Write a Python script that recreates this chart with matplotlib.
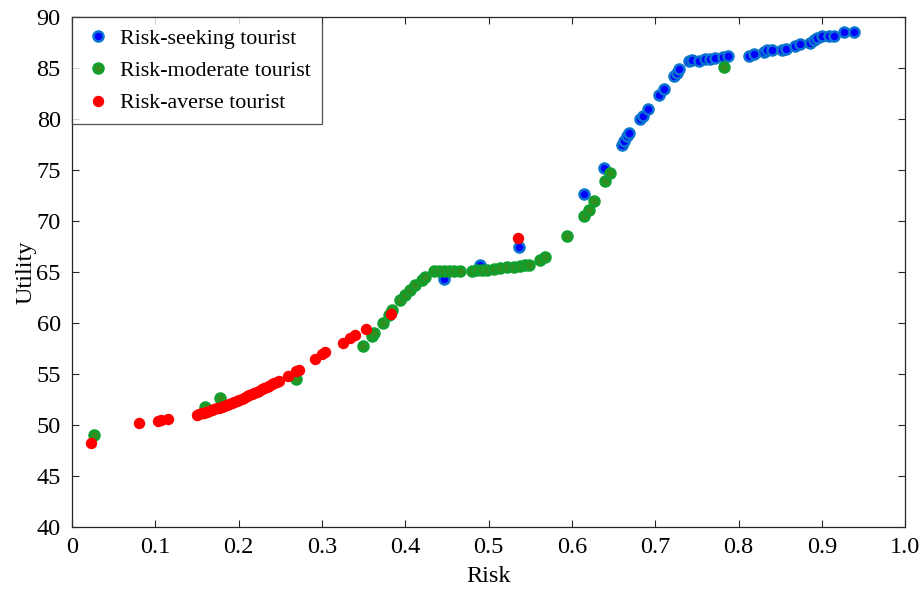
import matplotlib

matplotlib.use('Agg')
import matplotlib.pyplot as plt

# risk / utility pairs for the three tourist types
seek_risk = [0.447, 0.490, 0.537, 0.614, 0.638, 0.660, 0.663, 0.666, 0.669, 0.682,
             0.685, 0.691, 0.704, 0.710, 0.722, 0.726, 0.729, 0.741, 0.744, 0.753,
             0.760, 0.766, 0.772, 0.781, 0.787, 0.812, 0.818, 0.830, 0.834, 0.840,
             0.852, 0.857, 0.868, 0.874, 0.886, 0.890, 0.894, 0.900, 0.908, 0.914,
             0.926, 0.939]
seek_util = [64.3, 65.7, 67.5, 72.7, 75.2, 77.5, 77.9, 78.3, 78.6, 80.0,
             80.3, 81.0, 82.4, 83.0, 84.2, 84.5, 84.9, 85.7, 85.8, 85.7,
             85.9, 85.9, 86.0, 86.1, 86.2, 86.2, 86.4, 86.6, 86.8, 86.8,
             86.8, 86.9, 87.2, 87.4, 87.5, 87.8, 88.0, 88.2, 88.2, 88.2,
             88.5, 88.5]

mod_risk = [0.026, 0.160, 0.178, 0.269, 0.349, 0.360, 0.362, 0.373, 0.380, 0.384,
            0.394, 0.400, 0.406, 0.412, 0.420, 0.424, 0.434, 0.440, 0.446, 0.452,
            0.458, 0.466, 0.480, 0.486, 0.492, 0.498, 0.506, 0.514, 0.522, 0.530,
            0.538, 0.544, 0.548, 0.562, 0.568, 0.594, 0.614, 0.620, 0.627, 0.640,
            0.646, 0.782]
mod_util = [49.0, 51.8, 52.6, 54.5, 57.7, 58.7, 59.0, 60.0, 60.8, 61.3,
            62.3, 62.7, 63.2, 63.7, 64.2, 64.5, 65.1, 65.1, 65.1, 65.1,
            65.1, 65.1, 65.1, 65.15, 65.2, 65.2, 65.3, 65.35, 65.45, 65.5,
            65.6, 65.65, 65.7, 66.2, 66.5, 68.5, 70.5, 71.1, 72.0, 73.9,
            74.7, 85.1]

avers_risk = [0.023, 0.080, 0.103, 0.107, 0.115,
              0.150, 0.153, 0.156, 0.159, 0.162, 0.165, 0.168, 0.171, 0.174, 0.177,
              0.180, 0.183, 0.186, 0.189, 0.192, 0.195, 0.198, 0.201, 0.204, 0.207,
              0.210, 0.213, 0.216, 0.219, 0.222, 0.225, 0.228, 0.231, 0.234, 0.237,
              0.240, 0.243, 0.246, 0.248,
              0.259, 0.269, 0.272, 0.292, 0.300, 0.304, 0.325, 0.334, 0.340, 0.353,
              0.383, 0.535]
avers_util = [48.2, 50.2, 50.4, 50.5, 50.6,
              51.0, 51.07, 51.15, 51.22, 51.3, 51.38, 51.46, 51.54, 51.62, 51.7,
              51.79, 51.88, 51.97, 52.06, 52.16, 52.26, 52.36, 52.46, 52.57, 52.68,
              52.79, 52.9, 53.02, 53.13, 53.25, 53.37, 53.49, 53.61, 53.73, 53.85,
              53.97, 54.09, 54.2, 54.28,
              54.8, 55.3, 55.4, 56.5, 57.0, 57.2, 58.0, 58.5, 58.8, 59.4,
              60.9, 68.3]

x_ticks = [0, 0.1, 0.2, 0.3, 0.4, 0.5, 0.6, 0.7, 0.8, 0.9, 1.0]
x_labels = ['0', '0.1', '0.2', '0.3', '0.4', '0.5', '0.6', '0.7', '0.8', '0.9', '1.0']
y_ticks = [40, 45, 50, 55, 60, 65, 70, 75, 80, 85, 90]

plt.rcParams['font.family'] = ['Liberation Serif', 'DejaVu Serif']
axis_col = '#262626'

fig = plt.figure(figsize=(9.21, 5.92), dpi=100)
ax = fig.add_axes([0.078, 0.110, 0.905, 0.861])

ax.plot(seek_risk, seek_util, 'o', ls='none', ms=7.2, mfc='#0000ff', mec='#0a74d0',
        mew=1.8, label='Risk-seeking tourist')
ax.plot(mod_risk, mod_util, 'o', ls='none', ms=7.2, mfc='#2f8f1f', mec='#10a030',
        mew=1.8, label='Risk-moderate tourist')
ax.plot(avers_risk, avers_util, 'o', ls='none', ms=7.2, mfc='#ff0000', mec='#ff0000',
        mew=1.0, label='Risk-averse tourist')

ax.set_xlim(0, 1.0)
ax.set_ylim(40, 90)
ax.set_xticks(x_ticks)
ax.set_xticklabels(x_labels)
ax.set_yticks(y_ticks)
ax.tick_params(direction='in', top=True, right=True, length=5, width=0.8,
               labelsize=17.5, colors=axis_col, labelcolor='black')
ax.tick_params(axis='x', pad=7)
ax.tick_params(axis='y', pad=8)
for s in ax.spines.values():
    s.set_color(axis_col)
    s.set_linewidth(0.9)

ax.set_xlabel('Risk', fontsize=17.5, labelpad=6)
ax.set_ylabel('Utility', fontsize=17.5, labelpad=0)

leg = ax.legend(loc='upper left', borderaxespad=0, fontsize=15.8, fancybox=False,
                frameon=True, handletextpad=0.3, borderpad=0.5, labelspacing=0.55,
                handlelength=1.4)
leg.get_frame().set_edgecolor(axis_col)
leg.get_frame().set_linewidth(0.9)

plt.savefig('out.png', dpi=100)
